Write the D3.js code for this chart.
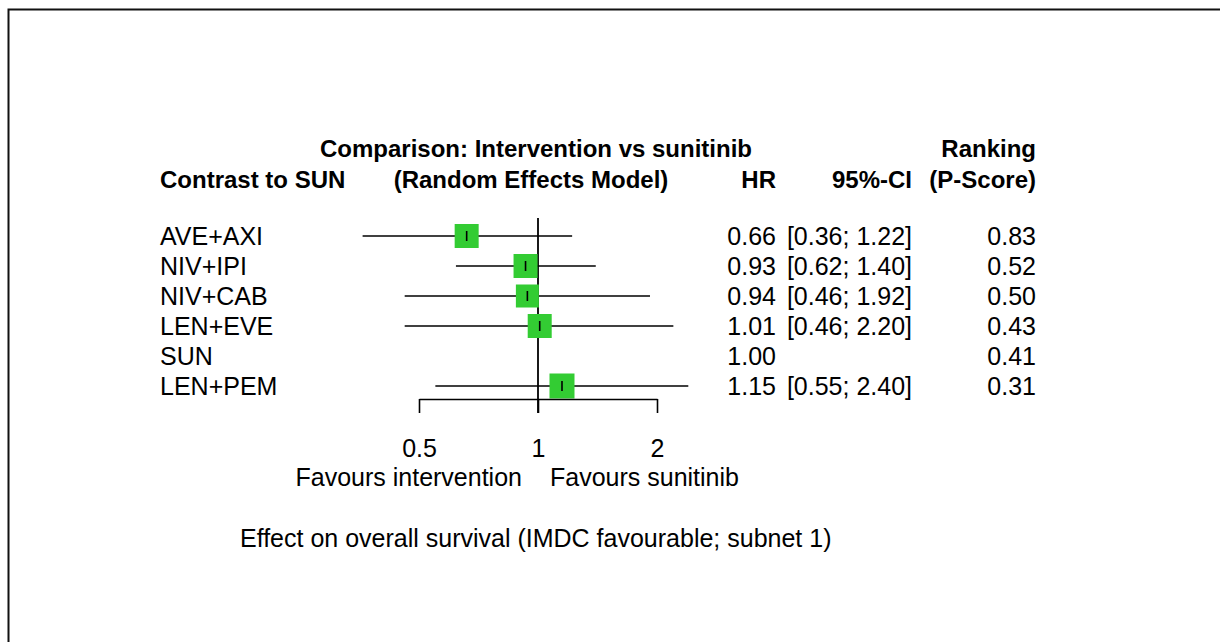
<!DOCTYPE html>
<html>
<head>
<meta charset="utf-8">
<script src="https://cdn.jsdelivr.net/npm/d3@7"></script>
<style>
  html, body { margin: 0; padding: 0; background: #fff; }
  text { font-family: "Liberation Sans", Arial, sans-serif; fill: #000; }
</style>
</head>
<body>
<div id="chart"></div>
<script>
// treatments compared with sunitinib (SUN is the reference row)
const treatments = ["AVE+AXI", "NIV+IPI", "NIV+CAB", "LEN+EVE", "SUN", "LEN+PEM"];
const hr = [0.66, 0.93, 0.94, 1.01, 1.00, 1.15];
const ciLower = [0.36, 0.62, 0.46, 0.46, null, 0.55];
const ciUpper = [1.22, 1.40, 1.92, 2.20, null, 2.40];
const pScore = [0.83, 0.52, 0.50, 0.43, 0.41, 0.31];
const boxSize = [24, 24, 23, 24, 0, 25];
const axisTicks = [0.5, 1, 2];

const width = 1220,
      height = 642;

const svg = d3.select("#chart").append("svg")
  .attr("width", width)
  .attr("height", height);

// frame (only top and left visible)
svg.append("path")
  .attr("d", "M8.5," + (height + 5) + "V9.5H" + (width + 5))
  .attr("fill", "none")
  .attr("stroke", "#111")
  .attr("stroke-width", 2);

const x = d3.scaleLog()
  .domain([0.5, 2])
  .range([419, 657]);

const y = d3.scaleBand()
  .domain(treatments)
  .range([221, 401]);

const rows = treatments.map((t, i) => ({
  name: t, hr: hr[i], lo: ciLower[i], hi: ciUpper[i], p: pScore[i], size: boxSize[i]
}));

const rowY = d => y(d.name) + y.bandwidth() / 2;

// headers
function txt(xp, yp, s, anchor, bold) {
  return svg.append("text")
    .attr("x", xp).attr("y", yp)
    .attr("text-anchor", anchor)
    .attr("font-size", bold ? 24 : 25)
    .attr("font-weight", bold ? "bold" : "normal")
    .text(s);
}

txt(x(1) - 2, 157, "Comparison: Intervention vs sunitinib", "middle", true);
txt(160, 188, "Contrast to SUN", "start", true);
txt(x(1) - 7, 188, "(Random Effects Model)", "middle", true);
txt(776, 188, "HR", "end", true);
txt(912, 188, "95%-CI", "end", true);
txt(1036, 157, "Ranking", "end", true);
txt(1036, 188, "(P-Score)", "end", true);

// reference line at HR = 1
svg.append("line")
  .attr("x1", x(1)).attr("x2", x(1))
  .attr("y1", 218).attr("y2", 413)
  .attr("stroke", "#000")
  .attr("stroke-width", 1.8);

// confidence intervals
const g = svg.append("g");
rows.filter(d => d.lo !== null).forEach(d => {
  const cy = rowY(d);
  g.append("line")
    .attr("x1", x(d.lo)).attr("x2", x(d.hi))
    .attr("y1", cy).attr("y2", cy)
    .attr("stroke", "#000")
    .attr("stroke-width", 1.6);
  g.append("rect")
    .attr("x", x(d.hr) - d.size / 2)
    .attr("y", cy - d.size / 2)
    .attr("width", d.size)
    .attr("height", d.size)
    .attr("fill", "#33cc33");
  g.append("line")
    .attr("x1", x(d.hr)).attr("x2", x(d.hr))
    .attr("y1", cy - 5).attr("y2", cy + 5)
    .attr("stroke", "#000")
    .attr("stroke-width", 1.6);
});

// row text
rows.forEach(d => {
  const by = rowY(d) + 8.5;
  txt(160, by, d.name, "start", false);
  txt(776, by, d.hr.toFixed(2), "end", false);
  if (d.lo !== null) {
    txt(912, by, "[" + d.lo.toFixed(2) + "; " + d.hi.toFixed(2) + "]", "end", false);
  }
  txt(1036, by, d.p.toFixed(2), "end", false);
});

// x axis
const axis = d3.axisBottom(x)
  .tickValues(axisTicks)
  .tickFormat(d3.format(""))
  .tickSize(14)
  .tickSizeOuter(0)
  .tickPadding(26);

const ax = svg.append("g")
  .attr("transform", "translate(0,399)")
  .call(axis);
ax.select(".domain").attr("stroke", "#000").attr("stroke-width", 1.6);
ax.selectAll(".tick line").attr("stroke", "#000").attr("stroke-width", 1.6);
ax.selectAll(".tick text")
  .attr("font-size", 25)
  .attr("font-family", "Liberation Sans, Arial, sans-serif")
  .attr("fill", "#000");

txt(522, 486, "Favours intervention", "end", false);
txt(550, 486, "Favours sunitinib", "start", false);
txt(240, 547, "Effect on overall survival (IMDC favourable; subnet 1)", "start", false);
</script>
</body>
</html>
